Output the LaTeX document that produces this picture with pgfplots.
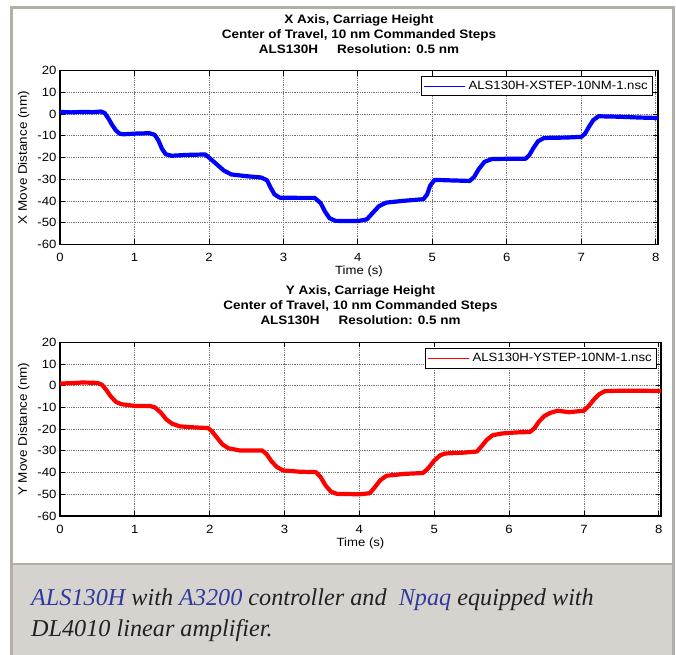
\documentclass[border=0pt]{standalone}
\usepackage{pgfplots}
\pgfplotsset{compat=1.18}
\usepackage{fontspec}
\setmainfont{Liberation Sans}[FakeStretch=1.1]
\newfontfamily\capfont{Liberation Serif}
\definecolor{framegray}{HTML}{B3AEA6}
\definecolor{capfill}{HTML}{D6D3CE}
\definecolor{capblue}{HTML}{2E3A9E}
\definecolor{captext}{HTML}{222222}
\definecolor{pureblue}{RGB}{0,0,255}
\definecolor{purered}{RGB}{255,0,0}

\pgfplotsset{
  stepaxis/.style={
    scale only axis,
    xmin=0, xmax=8.03, ymin=-60, ymax=20,
    xtick={0,1,...,8}, ytick={-60,-50,...,20},
    /pgf/number format/assume math mode=true,
    tick align=inside, xtick pos=both, ytick pos=both,
    xticklabel pos=left, yticklabel pos=left,
    major tick length=5bp,
    every tick/.style={black, line width=0.8bp},
    axis line style={black, line width=1.2bp},
    grid=major,
    major grid style={black!55, line width=0.8bp, densely dotted},
    tick label style={font=\fontsize{12}{14}\selectfont},
    xticklabel style={anchor=base, yshift=-17bp},
    every axis x label/.style={at={(axis description cs:0.5,0)}, anchor=base, yshift=-30bp, font=\fontsize{12}{14}\selectfont},
    every axis y label/.style={at={(axis description cs:-0.0606,0.5)}, rotate=90, anchor=center, font=\fontsize{12.3}{14}\selectfont},
    title style={font=\bfseries\fontsize{12.3}{15}\selectfont, align=center, at={(0.5,1)}, anchor=south, inner sep=0pt, yshift=11.2bp},
    xlabel={Time (s)},
    legend cell align=left,
    legend style={at={(1,1)}, anchor=north east, draw=black, line width=1bp, inner sep=1.5bp,
      font=\fontsize{12}{14}\selectfont, nodes={inner sep=3.3bp}},
  }
}

\begin{document}
\begin{tikzpicture}
\useasboundingbox (0,0) rectangle (676bp,-655bp);
% panel and caption box
\fill[white] (0,0) rectangle (676bp,-655bp);
\fill[capfill] (11.7bp,-564bp) rectangle (673.3bp,-655bp);
\draw[framegray, line width=2.5bp] (11.7bp,-656bp) -- (11.7bp,-7.3bp) -- (673.3bp,-7.3bp) -- (673.3bp,-656bp);
\draw[framegray, line width=2.5bp] (11.7bp,-564bp) -- (673.3bp,-564bp);
\node[anchor=base west, inner sep=0pt, text=captext] at (31bp,-605bp)
  {\capfont\itshape\fontsize{24.3}{30}\selectfont\textcolor{capblue}{ALS130H} with \textcolor{capblue}{A3200} controller and\ \ \textcolor{capblue}{Npaq} equipped with};
\node[anchor=base west, inner sep=0pt, text=captext] at (31bp,-636.7bp)
  {\capfont\itshape\fontsize{24.3}{30}\selectfont DL4010 linear amplifier.};

% top plot
\begin{axis}[stepaxis,
  at={(60bp,-244.3bp)}, anchor=south west,
  width=598bp, height=173.6bp,
  ylabel={X Move Distance (nm)},
  title={X Axis, Carriage Height\\Center of Travel, 10 nm Commanded Steps\\ALS130H\hspace{1.55em}Resolution: 0.5 nm},
  legend style={xshift=-5bp, yshift=-5.3bp},
  legend image code/.code={\draw[pureblue, line width=0.9bp] (0bp,0bp) -- (41bp,0bp);},
]
\addplot[color=pureblue, line width=4.2bp, line join=round] coordinates {
(0,1) (0.15,0.8) (0.3,1) (0.45,0.9) (0.55,1.2) (0.6,0.5) (0.65,-2) (0.7,-5) (0.75,-7.5) (0.8,-9)
(0.85,-9.3) (1.0,-9) (1.2,-8.8) (1.27,-9.5) (1.32,-12) (1.37,-16) (1.42,-18.5) (1.5,-19.2)
(1.7,-18.8) (1.95,-18.6) (2.0,-20) (2.1,-23) (2.2,-26) (2.3,-27.8) (2.5,-28.6) (2.7,-29.2)
(2.78,-30.5) (2.83,-34) (2.88,-37) (2.95,-38.5) (3.2,-38.6) (3.42,-38.6) (3.5,-41) (3.56,-45)
(3.62,-48) (3.7,-49.2) (4.0,-49.3) (4.12,-48.5) (4.2,-45.5) (4.28,-42.5) (4.38,-40.8) (4.6,-40)
(4.88,-39.2) (4.93,-37) (4.97,-33) (5.03,-30.3) (5.2,-30.5) (5.5,-30.8) (5.56,-29) (5.62,-25.5)
(5.7,-22) (5.8,-20.7) (6.0,-20.6) (6.25,-20.6) (6.3,-19) (6.36,-15.5) (6.42,-12.5) (6.5,-11)
(6.8,-10.8) (7.0,-10.5) (7.05,-9) (7.1,-6) (7.16,-2.8) (7.23,-1) (7.5,-1.2) (7.8,-1.6) (8.03,-1.8)
};
\addlegendentry{ALS130H-XSTEP-10NM-1.nsc}
\end{axis}

% bottom plot
\begin{axis}[stepaxis,
  at={(60bp,-516bp)}, anchor=south west,
  width=601bp, height=173.7bp,
  ylabel={Y Move Distance (nm)},
  title={Y Axis, Carriage Height\\Center of Travel, 10 nm Commanded Steps\\ALS130H\hspace{1.55em}Resolution: 0.5 nm},
  legend style={xshift=-4bp, yshift=-6bp},
  legend image code/.code={\draw[purered, line width=0.9bp] (0bp,0bp) -- (41bp,0bp);},
]
\addplot[color=purered, line width=4.2bp, line join=round] coordinates {
(0,1) (0.15,1.2) (0.3,1.5) (0.5,1.3) (0.56,0.5) (0.62,-2) (0.68,-5) (0.75,-7.5) (0.82,-8.5)
(1.0,-9.3) (1.2,-9.3) (1.27,-10) (1.35,-12.5) (1.42,-15.5) (1.5,-17.5) (1.6,-18.7) (1.8,-19.2)
(1.98,-19.5) (2.03,-21) (2.1,-24) (2.17,-27) (2.25,-28.8) (2.4,-29.8) (2.7,-29.8) (2.76,-31.5)
(2.83,-35) (2.9,-37.5) (2.98,-39) (3.2,-39.6) (3.42,-39.8) (3.48,-42) (3.55,-46) (3.62,-48.8)
(3.7,-49.8) (4.0,-50) (4.14,-49.5) (4.2,-47) (4.28,-43.5) (4.36,-41.5) (4.6,-40.6) (4.85,-40.2)
(4.92,-38) (5.0,-34.5) (5.08,-32) (5.15,-31.2) (5.4,-30.8) (5.57,-30.3) (5.63,-28) (5.7,-25)
(5.78,-22.8) (5.9,-22) (6.1,-21.5) (6.28,-21.3) (6.34,-19.5) (6.4,-16.5) (6.47,-14) (6.55,-12.5)
(6.65,-11.5) (6.8,-12.2) (7.0,-11.5) (7.06,-9.5) (7.13,-6.5) (7.2,-4) (7.28,-2.5) (7.5,-2.3)
(7.8,-2.3) (8.03,-2.5)
};
\addlegendentry{ALS130H-YSTEP-10NM-1.nsc}
\end{axis}
\end{tikzpicture}
\end{document}
